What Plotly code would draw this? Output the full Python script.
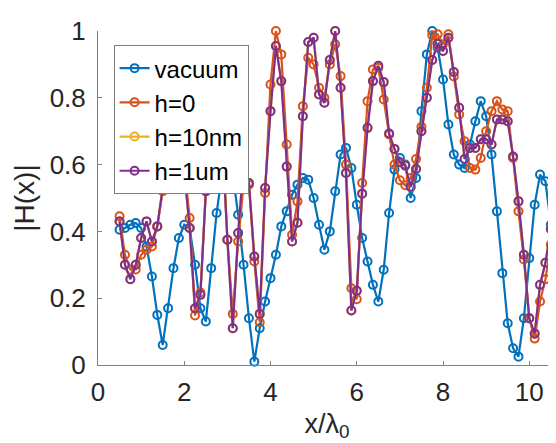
import plotly.graph_objects as go

# x positions (x / lambda_0)
x_vals = [0.5 + 0.125 * k for k in range(81)]

vacuum = [0.405, 0.41, 0.42, 0.425, 0.41, 0.355, 0.265, 0.15, 0.06, 0.17,
          0.29, 0.38, 0.42, 0.41, 0.30, 0.17, 0.13, 0.29, 0.455, 0.57,
          0.62, 0.57, 0.45, 0.30, 0.14, 0.01, 0.11, 0.19, 0.26, 0.33,
          0.415, 0.46, 0.51, 0.54, 0.56, 0.555, 0.50, 0.42, 0.345, 0.40,
          0.52, 0.63, 0.65, 0.59, 0.48, 0.38, 0.31, 0.24, 0.19, 0.285,
          0.455, 0.585, 0.62, 0.60, 0.50, 0.56, 0.76, 0.93, 1.0, 0.95,
          0.855, 0.72, 0.63, 0.60, 0.59, 0.66, 0.73, 0.79, 0.745, 0.63,
          0.46, 0.275, 0.125, 0.05, 0.025, 0.14, 0.32, 0.48, 0.57, 0.55,
          0.42]

h0 = [0.445, 0.33, 0.286, 0.286, 0.33, 0.345, 0.355, 0.415, 0.52, 0.75,
      0.85, 0.80, 0.60, 0.44, 0.148, 0.217, 0.52, 0.80, 0.90, 0.70,
      0.375, 0.153, 0.37, 0.54, 0.54, 0.31, 0.128, 0.515, 0.84, 1.0,
      0.93, 0.66, 0.39, 0.49, 0.775, 0.92, 0.90, 0.83, 0.80, 0.90,
      0.96, 0.865, 0.60, 0.23, 0.197, 0.545, 0.79, 0.885, 0.89, 0.795,
      0.69, 0.60, 0.553, 0.538, 0.56, 0.617, 0.713, 0.83, 0.987, 0.99,
      0.96, 0.99, 0.864, 0.75, 0.67, 0.59, 0.585, 0.62, 0.70, 0.76,
      0.79, 0.765, 0.76, 0.62, 0.46, 0.316, 0.14, 0.079, 0.19, 0.257,
      0.36]

h10nm = [0.43, 0.30, 0.257, 0.30, 0.38, 0.43, 0.37, 0.415, 0.53, 0.75,
         0.85, 0.80, 0.58, 0.41, 0.17, 0.21, 0.52, 0.80, 0.90, 0.70,
         0.375, 0.11, 0.395, 0.60, 0.545, 0.325, 0.153, 0.53, 0.76, 0.955,
         0.85, 0.594, 0.37, 0.426, 0.745, 0.967, 0.98, 0.81, 0.785, 0.913,
         1.0, 0.83, 0.575, 0.163, 0.222, 0.513, 0.71, 0.85, 0.896, 0.847,
         0.693, 0.647, 0.607, 0.597, 0.533, 0.587, 0.70, 0.80, 0.913, 0.962,
         0.94, 0.98, 0.877, 0.77, 0.617, 0.65, 0.65, 0.676, 0.676, 0.66,
         0.735, 0.735, 0.73, 0.624, 0.49, 0.33, 0.14, 0.094, 0.24, 0.306,
         0.407]

h1um = [0.43, 0.30, 0.257, 0.30, 0.38, 0.43, 0.37, 0.415, 0.53, 0.75,
        0.85, 0.80, 0.58, 0.41, 0.17, 0.21, 0.52, 0.80, 0.90, 0.70,
        0.375, 0.11, 0.395, 0.60, 0.545, 0.325, 0.153, 0.53, 0.76, 0.955,
        0.85, 0.594, 0.37, 0.426, 0.745, 0.967, 0.98, 0.81, 0.785, 0.913,
        1.0, 0.83, 0.575, 0.163, 0.222, 0.513, 0.71, 0.85, 0.896, 0.847,
        0.693, 0.647, 0.607, 0.597, 0.533, 0.587, 0.70, 0.80, 0.913, 0.962,
        0.94, 0.98, 0.877, 0.77, 0.617, 0.65, 0.65, 0.676, 0.676, 0.66,
        0.735, 0.735, 0.73, 0.624, 0.49, 0.33, 0.14, 0.094, 0.24, 0.306,
        0.407]

series_names = ["vacuum", "h=0", "h=10nm", "h=1um"]
series_data = [vacuum, h0, h10nm, h1um]
series_colors = ["#0072BD", "#D95319", "#EDB120", "#7E2F8E"]

x_ticks = [0, 2, 4, 6, 8, 10]
y_ticks = [0, 0.2, 0.4, 0.6, 0.8, 1]
y_tick_text = ["0", "0.2", "0.4", "0.6", "0.8", "1"]

fig = go.Figure()
for name, ys, col in zip(series_names, series_data, series_colors):
    fig.add_trace(go.Scatter(
        x=x_vals, y=ys, name=name, mode="lines+markers",
        line=dict(color=col, width=2.2),
        marker=dict(symbol="circle-open", size=8, color=col,
                    line=dict(color=col, width=2)),
        cliponaxis=False,
    ))

font_family = "Liberation Sans, Arial, sans-serif"
fig.update_layout(
    width=556, height=443,
    margin=dict(l=90, r=8, t=19, b=86),
    paper_bgcolor="white", plot_bgcolor="white",
    font=dict(family=font_family, size=26, color="#262626"),
    showlegend=True,
    legend=dict(
        x=0.034, y=0.958, xanchor="left", yanchor="top",
        bgcolor="white", bordercolor="#808080", borderwidth=1,
        font=dict(size=24, color="#000000"),
        tracegroupgap=0, itemwidth=30,
    ),
)
fig.update_xaxes(
    range=[0, 10.62], tickvals=x_ticks, ticktext=[str(v) for v in x_ticks],
    ticks="inside", ticklen=4, tickcolor="#808080",
    showline=True, linecolor="#808080", linewidth=1,
    showgrid=False, zeroline=False,
    tickfont=dict(size=26, color="#262626"), ticklabelstandoff=4,
    title=dict(text="x/λ<sub>0</sub>", font=dict(size=27, color="#262626"), standoff=7),
)
fig.update_yaxes(
    range=[0, 1], tickvals=y_ticks, ticktext=y_tick_text,
    ticks="inside", ticklen=4, tickcolor="#808080",
    showline=True, linecolor="#808080", linewidth=1,
    showgrid=False, zeroline=False,
    tickfont=dict(size=26, color="#262626"), ticklabelstandoff=6,
    title=dict(text="|H(x)|", font=dict(size=28, color="#262626"), standoff=6),
)

fig.write_html("out.html")
